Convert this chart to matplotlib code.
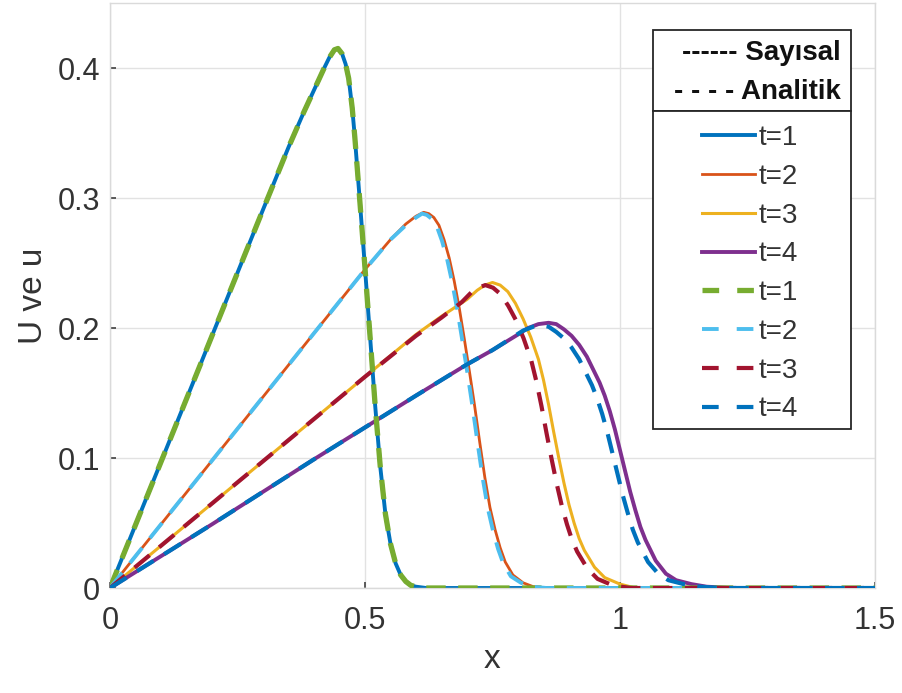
import matplotlib
matplotlib.use('Agg')
import matplotlib.pyplot as plt
from matplotlib.lines import Line2D
from matplotlib.patches import Rectangle

plt.rcParams['font.family'] = ['Liberation Sans', 'DejaVu Sans']
plt.rcParams['lines.scale_dashes'] = False

# ---------------- data ----------------
# numerical solutions (solid)
x_num1 = [0, 0.1, 0.2, 0.3, 0.35, 0.38, 0.40, 0.42, 0.43, 0.44, 0.447, 0.455, 0.462, 0.468, 0.475, 0.48, 0.49, 0.50,
          0.51, 0.52, 0.53, 0.54, 0.55, 0.56, 0.57, 0.58, 0.59, 0.60, 0.62, 1.5]
u_num1 = [0, 0.097, 0.194, 0.291, 0.339, 0.366, 0.383, 0.400, 0.408, 0.414, 0.415, 0.411, 0.403, 0.392, 0.369, 0.347, 0.297, 0.246,
          0.193, 0.140, 0.093, 0.057, 0.034, 0.019, 0.010, 0.005, 0.002, 0.001, 0, 0]

x_num2 = [0, 0.1, 0.2, 0.3, 0.4, 0.5, 0.55, 0.58, 0.60, 0.615, 0.625, 0.635, 0.645, 0.655, 0.665, 0.675, 0.685, 0.695,
          0.705, 0.715, 0.725, 0.735, 0.745, 0.755, 0.765, 0.775, 0.79, 0.81, 0.83, 0.86, 1.5]
u_num2 = [0, 0.049, 0.098, 0.147, 0.196, 0.245, 0.268, 0.280, 0.286, 0.289, 0.288, 0.285, 0.279, 0.268, 0.254, 0.236, 0.215, 0.191,
          0.166, 0.140, 0.112, 0.085, 0.062, 0.045, 0.031, 0.020, 0.010, 0.004, 0.001, 0, 0]

x_num3 = [0, 0.1, 0.2, 0.3, 0.4, 0.5, 0.6, 0.65, 0.70, 0.72, 0.735, 0.75, 0.765, 0.78, 0.795, 0.81, 0.825, 0.84, 0.85,
          0.86, 0.87, 0.88, 0.89, 0.90, 0.91, 0.92, 0.93, 0.95, 0.97, 1.00, 1.03, 1.5]
u_num3 = [0, 0.0325, 0.065, 0.0975, 0.13, 0.1625, 0.195, 0.209, 0.222, 0.229, 0.233, 0.235, 0.233, 0.228, 0.219, 0.207, 0.193, 0.176, 0.160,
          0.141, 0.120, 0.100, 0.081, 0.064, 0.050, 0.038, 0.029, 0.016, 0.008, 0.003, 0, 0]

x_num4 = [0, 0.2, 0.4, 0.6, 0.7, 0.75, 0.80, 0.82, 0.84, 0.86, 0.875, 0.89, 0.905, 0.92, 0.935, 0.95, 0.96, 0.97,
          0.98, 0.99, 1.00, 1.01, 1.02, 1.03, 1.04, 1.05, 1.07, 1.09, 1.11, 1.14, 1.17, 1.22, 1.5]
u_num4 = [0, 0.049, 0.099, 0.148, 0.172, 0.183, 0.195, 0.200, 0.203, 0.204, 0.203, 0.199, 0.194, 0.187, 0.178, 0.166, 0.158, 0.148,
          0.136, 0.122, 0.106, 0.090, 0.074, 0.060, 0.047, 0.037, 0.021, 0.011, 0.006, 0.003, 0.001, 0, 0]

# analytical solutions (dashed)
x_an1 = [0, 0.1, 0.2, 0.3, 0.35, 0.38, 0.40, 0.42, 0.43, 0.44, 0.447, 0.455, 0.462, 0.468, 0.475, 0.48, 0.49, 0.50,
         0.51, 0.52, 0.53, 0.54, 0.55, 0.56, 0.57, 0.58, 0.59, 0.60, 0.62, 1.5]
u_an1 = [0, 0.097, 0.194, 0.291, 0.339, 0.366, 0.383, 0.400, 0.408, 0.414, 0.415, 0.411, 0.403, 0.392, 0.369, 0.347, 0.297, 0.246,
         0.193, 0.140, 0.093, 0.057, 0.034, 0.019, 0.010, 0.005, 0.002, 0.001, 0, 0]

x_an2 = [0, 0.1, 0.2, 0.3, 0.4, 0.5, 0.55, 0.58, 0.60, 0.612, 0.621, 0.631, 0.641, 0.651, 0.661, 0.671, 0.681, 0.691,
         0.701, 0.711, 0.721, 0.731, 0.741, 0.751, 0.761, 0.771, 0.786, 0.806, 0.826, 0.856, 1.5]
u_an2 = [0, 0.049, 0.098, 0.147, 0.196, 0.245, 0.268, 0.279, 0.285, 0.288, 0.287, 0.284, 0.278, 0.267, 0.253, 0.235, 0.214, 0.190,
         0.165, 0.139, 0.111, 0.084, 0.061, 0.044, 0.030, 0.019, 0.009, 0.004, 0.001, 0, 0]

x_an3 = [0, 0.1, 0.2, 0.3, 0.4, 0.5, 0.6, 0.65, 0.69, 0.71, 0.722, 0.736, 0.751, 0.766, 0.781, 0.796, 0.811, 0.826, 0.836,
         0.846, 0.856, 0.866, 0.876, 0.886, 0.896, 0.906, 0.916, 0.936, 0.956, 0.986, 1.02, 1.5]
u_an3 = [0, 0.0325, 0.065, 0.0975, 0.13, 0.1625, 0.194, 0.208, 0.220, 0.228, 0.231, 0.233, 0.231, 0.226, 0.217, 0.206, 0.192, 0.175, 0.159,
         0.140, 0.119, 0.099, 0.080, 0.063, 0.049, 0.037, 0.028, 0.015, 0.007, 0.002, 0, 0]

x_an4 = [0, 0.2, 0.4, 0.6, 0.7, 0.75, 0.79, 0.81, 0.83, 0.845, 0.86, 0.875, 0.89, 0.905, 0.92, 0.935, 0.945, 0.955,
         0.965, 0.975, 0.985, 0.995, 1.005, 1.015, 1.025, 1.035, 1.055, 1.075, 1.095, 1.125, 1.155, 1.2, 1.5]
u_an4 = [0, 0.049, 0.099, 0.148, 0.172, 0.183, 0.193, 0.198, 0.201, 0.202, 0.201, 0.197, 0.192, 0.185, 0.176, 0.164, 0.156, 0.146,
         0.134, 0.120, 0.104, 0.088, 0.072, 0.058, 0.045, 0.035, 0.020, 0.011, 0.006, 0.003, 0.001, 0, 0]

labels = ['t=1', 't=2', 't=3', 't=4']
x_ticks = [0, 0.5, 1, 1.5]
x_ticklabels = ['0', '0.5', '1', '1.5']
y_ticks = [0, 0.1, 0.2, 0.3, 0.4]
y_ticklabels = ['0', '0.1', '0.2', '0.3', '0.4']

num_colors = ['#0072BD', '#D95319', '#EDB120', '#7E2F8E']
an_colors = ['#77AC30', '#4DBEEE', '#A2142F', '#0072BD']
num_lw = [2.8, 2.0, 2.2, 2.8]
an_lw = [3.8, 2.8, 3.0, 3.0]

# ---------------- figure ----------------
fig = plt.figure(figsize=(9.03, 6.93), dpi=100)
ax = fig.add_axes([110 / 903, 105 / 693, 765 / 903, 585 / 693])

nums = [(x_num1, u_num1), (x_num2, u_num2), (x_num3, u_num3), (x_num4, u_num4)]
ans_ = [(x_an1, u_an1), (x_an2, u_an2), (x_an3, u_an3), (x_an4, u_an4)]

for (xx, uu), c, lw in zip(nums, num_colors, num_lw):
    ax.plot(xx, uu, color=c, lw=lw, solid_capstyle='round', solid_joinstyle='round', zorder=2)
for (xx, uu), c, lw in zip(ans_, an_colors, an_lw):
    ax.plot(xx, uu, color=c, lw=lw, linestyle=(0, (14, 9)), dash_joinstyle='round', zorder=3)

ax.set_xlim(0, 1.5)
ax.set_ylim(0, 0.45)
ax.set_xticks(x_ticks)
ax.set_xticklabels(x_ticklabels)
ax.set_yticks(y_ticks)
ax.set_yticklabels(y_ticklabels)
ax.grid(True, color='#e2e2e2', lw=1.0, zorder=0)
ax.set_axisbelow(True)
for s in ax.spines.values():
    s.set_color('#dadada')
    s.set_linewidth(1.0)
ax.tick_params(axis='both', direction='in', length=4, width=1.2, color='#404040',
               labelsize=22, labelcolor='#333333')
ax.tick_params(axis='x', pad=13)
ax.tick_params(axis='y', pad=7)
ax.set_xlabel('x', fontsize=24, color='#333333', labelpad=6)
ax.set_ylabel('U ve u', fontsize=24, color='#333333', labelpad=6)

# ---------------- legend ----------------
W, H = 903, 693
hdr = Rectangle((653 / W, 1 - 111 / H), 198 / W, 81 / H, transform=fig.transFigure,
                facecolor='white', edgecolor='#262626', lw=1.3, zorder=2)
box = Rectangle((653 / W, 1 - 429 / H), 198 / W, 318 / H, transform=fig.transFigure,
                facecolor='white', edgecolor='#262626', lw=1.3, zorder=2)
fig.patches.extend([hdr, box])
fig.text(841 / W, 1 - 53 / H, '------ Sayısal', ha='right', va='center', fontsize=20,
         fontweight='bold', color='#111111', zorder=4)
fig.text(841 / W, 1 - 92 / H, '- - - - Analitik', ha='right', va='center', fontsize=20,
         fontweight='bold', color='#111111', zorder=4)

handles = []
for c, lw in zip(num_colors, num_lw):
    handles.append(Line2D([], [], color=c, lw=lw))
for c, lw in zip(an_colors, an_lw):
    handles.append(Line2D([], [], color=c, lw=lw, linestyle=(0, (12, 13))))
leg = fig.legend(handles, labels + labels, loc='upper left',
                 bbox_to_anchor=(702 / W, 1 - 125 / H), bbox_transform=fig.transFigure,
                 frameon=False, borderpad=0, borderaxespad=0, fontsize=20,
                 handlelength=1.9, handletextpad=0.15, labelspacing=0.46)
leg.set_zorder(5)
for t in leg.get_texts():
    t.set_color('#333333')

fig.savefig('out.png', dpi=100)
